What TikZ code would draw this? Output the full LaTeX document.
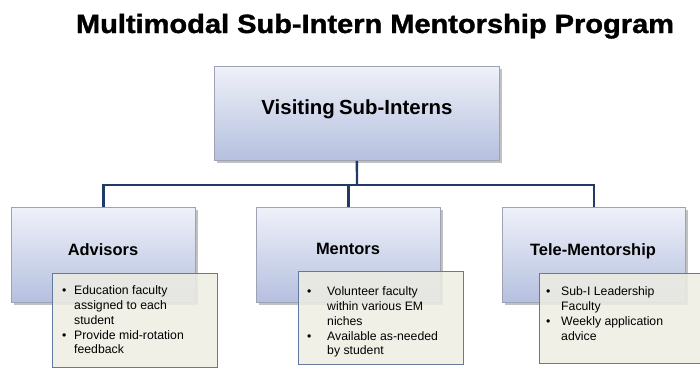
\documentclass[tikz,border=0pt]{standalone}
\usepackage{fontspec}
\setmainfont{Liberation Sans}
\newfontfamily\titlefont[FakeBold=1.3]{Liberation Sans Bold}
\usetikzlibrary{shadows}
\definecolor{boxtop}{HTML}{EFF1F9}
\definecolor{boxbot}{HTML}{B5C0DF}
\definecolor{boxline}{HTML}{9EA3B3}
\definecolor{linkc}{HTML}{1F3B66}
\definecolor{notefill}{HTML}{EEEDE3}
\definecolor{noteline}{HTML}{6479A0}
\tikzset{
  hbox/.style={rectangle, draw=boxline, line width=0.8bp, top color=boxtop, bottom color=boxbot,
    inner sep=0pt, anchor=north west,
    drop shadow={shadow xshift=2.5bp, shadow yshift=-3bp, opacity=.35, fill=black!70}},
  notebox/.style={rectangle, draw=noteline, line width=0.8bp, fill=notefill, fill opacity=0.86,
    inner sep=0pt, anchor=north west},
  headtext/.style={anchor=base, inner sep=0pt, font=\fontsize{16.5}{18}\selectfont\bfseries},
  notetext/.style={anchor=north west, inner sep=0pt, font=\fontsize{12.3}{15}\selectfont, align=left},
  link/.style={draw=linkc, line width=2.4bp}
}
\newcommand{\bul}[1]{\makebox[#1][l]{\hspace{1bp}•}}
\begin{document}
\begin{tikzpicture}[x=1bp,y=1bp]
\useasboundingbox (0,0) rectangle (700,-369);
% title
\node[anchor=base, inner sep=0pt, font=\fontsize{26}{30}\selectfont\titlefont] (title) at (375,-33)
  {\scalebox{1.12}[1.02]{Multimodal Sub-Intern Mentorship Program}};
% boxes
\node[hbox, minimum width=285bp, minimum height=94bp] (top) at (214,-66) {};
\node[headtext, font=\fontsize{20.5}{24}\selectfont\bfseries] (toptext) at (357,-114) {Visiting\hspace{-1.5bp} Sub-Interns};
\node[hbox, minimum width=184bp, minimum height=95bp] (adv) at (11,-207) {};
\node[hbox, minimum width=184bp, minimum height=95bp] (men) at (256,-207) {};
\node[hbox, minimum width=183bp, minimum height=95bp] (tele) at (502,-207) {};
\node[headtext] (advtext) at (103,-255) {Advisors};
\node[headtext] (mentext) at (348,-254) {Mentors};
\node[headtext] (teletext) at (593,-255) {Tele-Mentorship};
% connectors
\coordinate (j) at (357,-185);
\draw[link] (top.south) -- (j);
\draw[link] (adv.north) |- (j) -| (tele.north);
\draw[link] (men.north) -- (men.north |- j);
% notes
\node[notebox, minimum width=165bp, minimum height=94bp] (advnote) at (52,-273) {};
\node[notebox, minimum width=165bp, minimum height=93bp] (mennote) at (298,-271) {};
\node[notebox, minimum width=170bp, minimum height=90bp] (telenote) at (539,-273) {};
\node[notetext] (advlist) at (61,-283.5) {%
  \begin{tabular}{@{}l@{}l@{}}
  \bul{13bp}& Education faculty\\
  & assigned to each\\
  & student\\
  \bul{13bp}& Provide mid-rotation\\
  & feedback
  \end{tabular}};
\node[notetext] (menlist) at (306,-284.5) {%
  \begin{tabular}{@{}l@{}l@{}}
  \bul{21bp}& Volunteer faculty\\
  & within various EM\\
  & niches\\
  \bul{21bp}& Available as-needed\\
  & by student
  \end{tabular}};
\node[notetext] (telelist) at (545,-285) {%
  \begin{tabular}{@{}l@{}l@{}}
  \bul{16bp}& Sub-I Leadership\\
  & Faculty\\
  \bul{16bp}& Weekly application\\
  & advice
  \end{tabular}};
\end{tikzpicture}
\end{document}
